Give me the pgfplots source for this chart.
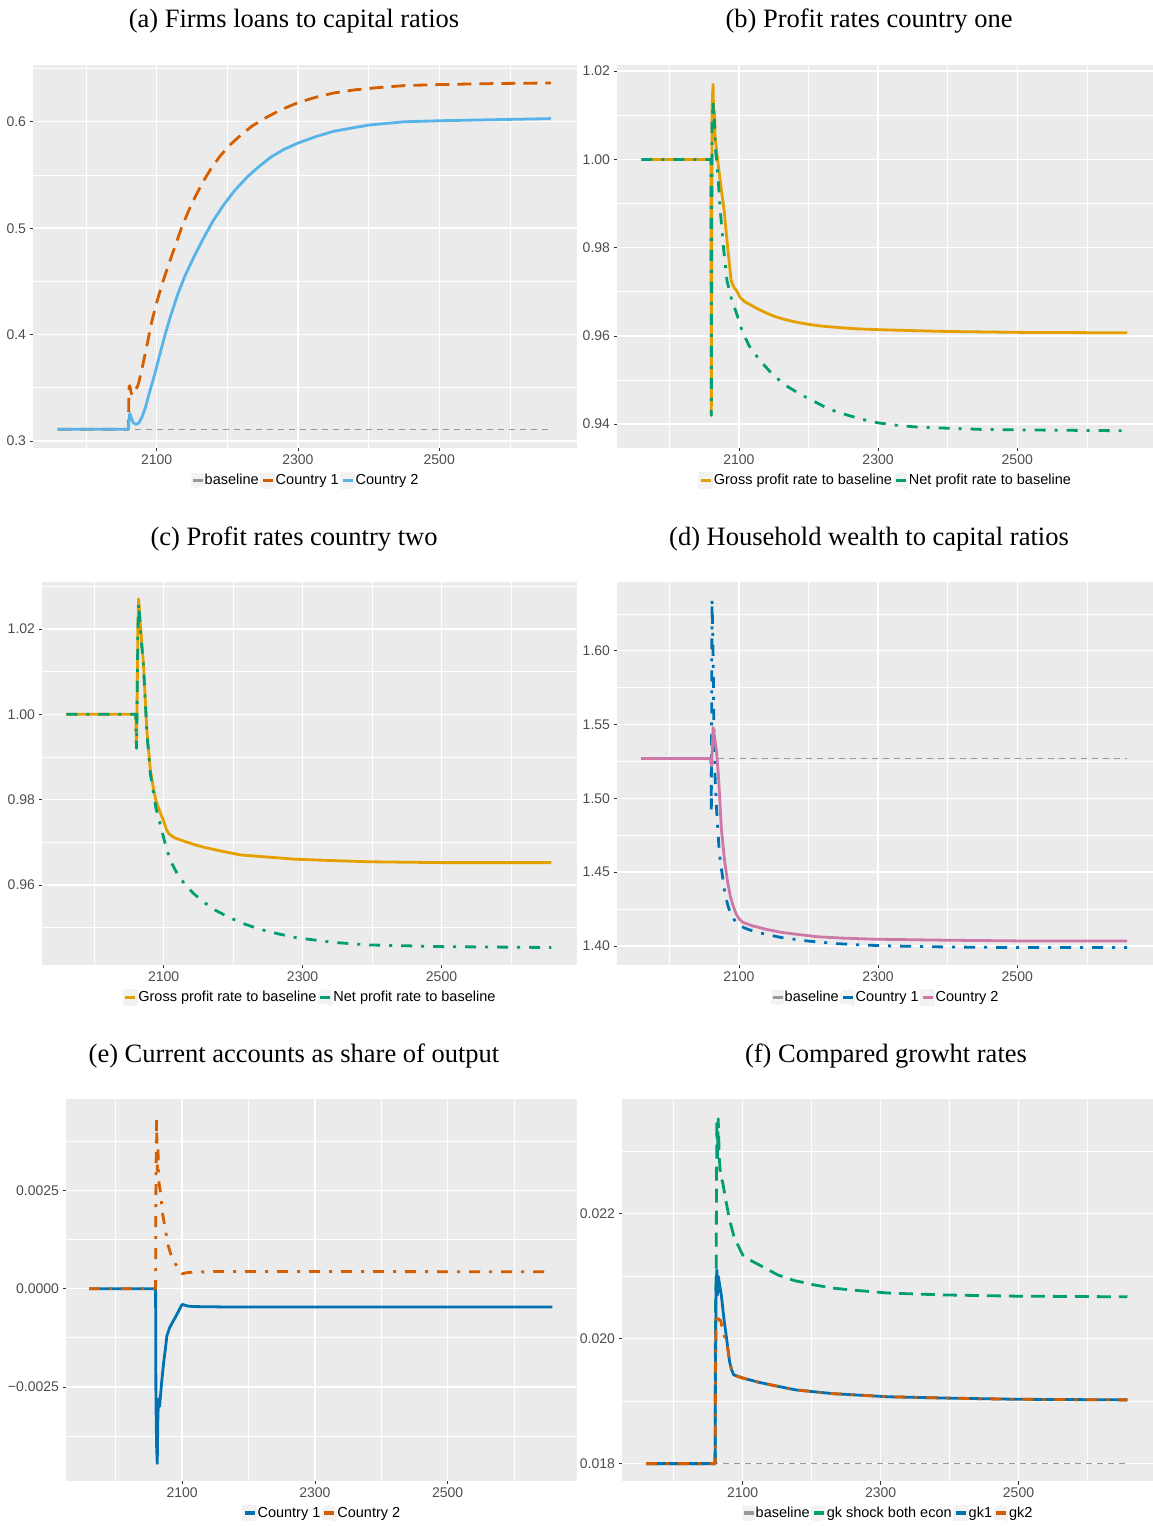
\documentclass[border=0pt]{standalone}
\usepackage{pgfplots}
\pgfplotsset{compat=1.18}
\usepackage{fontspec}
\setmainfont{Liberation Serif}
\newfontfamily\sansf{Liberation Sans}
\definecolor{panelbg}{HTML}{EBEBEB}
\definecolor{tickgray}{HTML}{4D4D4D}
\definecolor{tickmark}{HTML}{333333}
\definecolor{basegray}{HTML}{999999}
\definecolor{cbOrange}{HTML}{E69F00}
\definecolor{cbSky}{HTML}{56B4E9}
\definecolor{cbGreen}{HTML}{009E73}
\definecolor{cbBlue}{HTML}{0072B2}
\definecolor{cbVerm}{HTML}{D55E00}
\definecolor{cbPink}{HTML}{CC79A7}
\definecolor{keybg}{HTML}{F2F2F2}
\newcommand\tickfont{\sansf\fontsize{14}{16}\selectfont}
\newcommand\legfont{\sansf\fontsize{14.5}{17}\selectfont}
\newcommand\titlefont{\fontsize{26.5}{31}\selectfont}
\tikzset{
  ggbase/.style={basegray, line width=1.2pt, dash pattern=on 6pt off 5pt},
  ggthick/.style={line width=2.8pt, line join=round},
  ggdash/.style={dash pattern=on 14pt off 8pt},
  ggdd/.style={dash pattern=on 11pt off 9pt on 3pt off 9pt},
}
\pgfplotsset{
  gg/.style={
    scale only axis,
    height=383pt,
    axis background/.style={fill=panelbg},
    axis line style={draw=none},
    xmajorgrids, ymajorgrids, xminorgrids, yminorgrids,
    major grid style={white, line width=1.4pt},
    minor grid style={white, line width=0.7pt},
    xmin=1925, xmax=2695,
    xtick={2100,2300,2500},
    xticklabels={2100,2300,2500},
    minor xtick={2000,2200,2400,2600},
    scaled ticks=false,
    tick label style={font=\tickfont, text=tickgray},
    major tick style={draw=tickmark, line width=0.6pt},
    major tick length=3.5pt,
    minor tick length=0pt,
    tick align=outside,
    tick pos=left,
    legend columns=-1,
    legend style={font=\legfont, draw=none, fill=none, at={(0.5,-0.084)}, anchor=center, inner sep=0pt,
      nodes={inner sep=0.6pt},
      /tikz/every even column/.append style={column sep=1pt}},
    legend cell align=left,
    legend image code/.code={\fill[keybg] (-1pt,-7pt) rectangle (11pt,7pt);\draw[##1, solid, line width=3.2pt] (0pt,0pt) -- (10pt,0pt);},
  }
}
\begin{document}
\begin{tikzpicture}
\path[use as bounding box] (0pt,0pt) rectangle (1153pt,1526pt);
% titles
\node[font=\titlefont] at (294pt,1505pt) {(a) Firms loans to capital ratios};
\node[font=\titlefont] at (869pt,1505pt) {(b) Profit rates country one};
\node[font=\titlefont] at (294pt,987pt) {(c) Profit rates country two};
\node[font=\titlefont] at (869pt,987pt) {(d) Household wealth to capital ratios};
\node[font=\titlefont] at (294pt,470pt) {(e) Current accounts as share of output};
\node[font=\titlefont] at (886pt,470pt) {(f) Compared growht rates};

% (a)
\begin{axis}[gg, at={(33pt,1078pt)}, anchor=south west, width=544pt,
  ymin=0.2934, ymax=0.6534, ytick={0.3,0.4,0.5,0.6}, yticklabels={0.3,0.4,0.5,0.6},
  minor ytick={0.35,0.45,0.55,0.65}]
\addplot[ggbase] coordinates {(1960,0.311) (2655,0.311)};
\addlegendentry{baseline}
\addplot[cbVerm, ggthick, ggdash] coordinates {(1960,0.311) (2060,0.311) (2060.5,0.333) (2061,0.351) (2062,0.352) (2064,0.345) (2066,0.343) (2068,0.345) (2071,0.349) (2074,0.353) (2080,0.370) (2087,0.392) (2093,0.412) (2100,0.430) (2108,0.448) (2116,0.464) (2125,0.481) (2135,0.500) (2145,0.516) (2155,0.530) (2166,0.544) (2177,0.556) (2190,0.568) (2205,0.579) (2220,0.588) (2235,0.596) (2255,0.604) (2275,0.611) (2300,0.618) (2325,0.623) (2350,0.627) (2380,0.630) (2411,0.632) (2450,0.634) (2500,0.635) (2584,0.636) (2658,0.6365)};
\addlegendentry{Country 1}
\addplot[cbSky, ggthick] coordinates {(1960,0.311) (2060,0.311) (2061,0.320) (2062,0.326) (2064,0.322) (2067,0.317) (2071,0.3156) (2075,0.317) (2079,0.322) (2084,0.331) (2090,0.346) (2097,0.362) (2104,0.380) (2112,0.400) (2120,0.418) (2130,0.438) (2140,0.455) (2152,0.472) (2165,0.489) (2180,0.507) (2195,0.522) (2210,0.535) (2228,0.548) (2245,0.558) (2262,0.567) (2280,0.574) (2300,0.580) (2325,0.586) (2350,0.591) (2375,0.594) (2401,0.597) (2450,0.600) (2500,0.601) (2580,0.602) (2658,0.603)};
\addlegendentry{Country 2}
\end{axis}

% (b)
\begin{axis}[gg, at={(617pt,1078pt)}, anchor=south west, width=536pt,
  ymin=0.9346, ymax=1.0214, ytick={0.94,0.96,0.98,1.00,1.02}, yticklabels={0.94,0.96,0.98,1.00,1.02},
  minor ytick={0.95,0.97,0.99,1.01}]
\addplot[cbOrange, ggthick] coordinates {(1960,1.000) (2060,1.000) (2060.5,0.942) (2061.5,1.012) (2063,1.017) (2064,1.008) (2065,1.011) (2066,1.005) (2068,1.002) (2071,0.998) (2075,0.993) (2079,0.9883) (2084,0.980) (2087,0.9755) (2089,0.9725) (2093,0.971) (2097,0.9702) (2102,0.9687) (2108,0.9678) (2115,0.9672) (2125,0.9663) (2138,0.9653) (2150,0.9645) (2164,0.9638) (2180,0.9632) (2201,0.9626) (2220,0.9622) (2243,0.9619) (2270,0.9616) (2303,0.9614) (2350,0.9612) (2400,0.9610) (2505,0.9608) (2658,0.9607)};
\addlegendentry{Gross profit rate to baseline}
\addplot[cbGreen, ggthick, ggdd] coordinates {(1960,1.000) (2060,1.000) (2060.5,0.942) (2061.5,1.008) (2063,1.013) (2064,1.007) (2065,1.009) (2066,1.003) (2068,1.000) (2071,0.994) (2073,0.989) (2078,0.980) (2083,0.9725) (2090,0.968) (2097,0.965) (2105,0.961) (2115,0.9577) (2130,0.9545) (2146,0.9517) (2165,0.9490) (2188,0.9468) (2210,0.9450) (2230,0.9434) (2255,0.9421) (2277,0.9411) (2300,0.9403) (2329,0.9397) (2360,0.9393) (2397,0.9391) (2450,0.9388) (2502,0.9387) (2580,0.9386) (2658,0.9385)};
\addlegendentry{Net profit rate to baseline}
\end{axis}

% (c)
\begin{axis}[gg, at={(42pt,561pt)}, anchor=south west, width=535pt,
  ymin=0.9412, ymax=1.031, ytick={0.96,0.98,1.00,1.02}, yticklabels={0.96,0.98,1.00,1.02},
  minor ytick={0.95,0.97,0.99,1.01,1.03}]
\addplot[cbOrange, ggthick] coordinates {(1960,1.000) (2060,1.000) (2061,0.992) (2062,1.005) (2063,1.020) (2064,1.027) (2065,1.025) (2067,1.020) (2071,1.0118) (2076,0.9961) (2081,0.9868) (2085,0.9830) (2089,0.9797) (2095,0.9770) (2100,0.975) (2104,0.9730) (2108,0.9719) (2116,0.971) (2130,0.9702) (2145,0.9694) (2158,0.9688) (2180,0.9680) (2211,0.967) (2250,0.9665) (2290,0.966) (2340,0.9657) (2396,0.9654) (2502,0.9652) (2658,0.9652)};
\addlegendentry{Gross profit rate to baseline}
\addplot[cbGreen, ggthick, ggdd] coordinates {(1960,1.000) (2060,1.000) (2061,0.992) (2062,1.004) (2063,1.019) (2064,1.026) (2065,1.024) (2067,1.019) (2071,1.0115) (2076,0.9955) (2081,0.9860) (2085,0.9820) (2089,0.978) (2097,0.973) (2103,0.9692) (2110,0.9656) (2120,0.9625) (2132,0.9598) (2145,0.9577) (2158,0.9559) (2175,0.9540) (2195,0.9523) (2215,0.9509) (2238,0.9496) (2265,0.9485) (2291,0.9476) (2320,0.9470) (2344,0.9465) (2396,0.9459) (2450,0.9457) (2502,0.9455) (2580,0.9454) (2658,0.9453)};
\addlegendentry{Net profit rate to baseline}
\end{axis}

% (d)
\begin{axis}[gg, at={(617pt,561pt)}, anchor=south west, width=536pt,
  ymin=1.3871, ymax=1.6466, ytick={1.40,1.45,1.50,1.55,1.60}, yticklabels={1.40,1.45,1.50,1.55,1.60},
  minor ytick={1.425,1.475,1.525,1.575,1.625}]
\addplot[ggbase] coordinates {(1960,1.527) (2658,1.527)};
\addlegendentry{baseline}
\addplot[cbBlue, ggthick, ggdd] coordinates {(1960,1.527) (2060,1.527) (2060.5,1.490) (2061.5,1.635) (2063,1.600) (2064,1.555) (2065,1.530) (2066,1.513) (2068,1.493) (2070,1.478) (2072,1.463) (2076,1.449) (2080,1.4355) (2084,1.428) (2088,1.4218) (2093,1.418) (2098,1.4149) (2108,1.4122) (2119,1.4103) (2140,1.4078) (2161,1.4057) (2200,1.4033) (2240,1.4016) (2280,1.4006) (2319,1.400) (2398,1.3993) (2503,1.3989) (2658,1.3989)};
\addlegendentry{Country 1}
\addplot[cbPink, ggthick] coordinates {(1960,1.527) (2060,1.527) (2061,1.522) (2062,1.535) (2063,1.548) (2065,1.542) (2068,1.5317) (2071,1.5134) (2075,1.479) (2078,1.465) (2080,1.4561) (2084,1.443) (2088,1.4332) (2092,1.427) (2096,1.4218) (2101,1.418) (2106,1.416) (2119,1.4137) (2140,1.4112) (2161,1.4092) (2190,1.4075) (2214,1.4062) (2250,1.4053) (2293,1.4046) (2350,1.4042) (2398,1.4039) (2503,1.4034) (2658,1.4034)};
\addlegendentry{Country 2}
\end{axis}

% (e)
\begin{axis}[gg, at={(66pt,45pt)}, anchor=south west, width=511pt, height=382pt,
  ymin=-0.004894, ymax=0.004827, ytick={-0.0025,0,0.0025}, yticklabels={−0.0025,0.0000,0.0025},
  minor ytick={-0.00375,-0.00125,0.00125,0.00375}]
\addplot[cbBlue, ggthick] coordinates {(1960,0) (2060,0) (2060.5,-0.0028) (2061.5,-0.0040) (2062.5,-0.00445) (2063.5,-0.0032) (2065,-0.0028) (2066,-0.0030) (2069,-0.0024) (2072,-0.0019) (2075,-0.0015) (2077,-0.0012) (2081,-0.0010) (2086,-0.00084) (2090,-0.00072) (2094,-0.00059) (2100,-0.00040) (2108,-0.00044) (2116,-0.000455) (2160,-0.000464) (2658,-0.000464)};
\addlegendentry{Country 1}
\addplot[cbVerm, ggthick, ggdd] coordinates {(1960,0) (2060,0) (2060.5,0.0027) (2061.5,0.0044) (2062.5,0.0030) (2063.5,0.0036) (2065,0.0027) (2067,0.0025) (2071,0.00186) (2079,0.0011) (2085,0.00076) (2093,0.00055) (2100,0.00038) (2108,0.00041) (2116,0.00042) (2160,0.00044) (2658,0.00043)};
\addlegendentry{Country 2}
\end{axis}

% (f)
\begin{axis}[gg, at={(622pt,45pt)}, anchor=south west, width=531pt, height=382pt,
  ymin=0.017722, ymax=0.023836, ytick={0.018,0.020,0.022}, yticklabels={0.018,0.020,0.022},
  minor ytick={0.019,0.021,0.023}]
\addplot[ggbase] coordinates {(1960,0.018) (2658,0.018)};
\addlegendentry{baseline}
\addplot[cbGreen, ggthick, ggdash] coordinates {(1960,0.018) (2060,0.018) (2060.5,0.0204) (2061.5,0.0211) (2062.5,0.0235) (2063.5,0.0229) (2064.5,0.02352) (2066,0.0229) (2068,0.0226) (2071,0.0225) (2076,0.02219) (2081,0.0219) (2087,0.02165) (2093,0.0215) (2100,0.02134) (2112,0.02125) (2124,0.02118) (2151,0.02102) (2175,0.02093) (2204,0.02086) (2230,0.02081) (2257,0.02078) (2311,0.02073) (2391,0.0207) (2497,0.02068) (2658,0.02067)};
\addlegendentry{gk shock both econ}
\addplot[cbBlue, ggthick] coordinates {(1960,0.018) (2060,0.018) (2060.5,0.0195) (2061.5,0.0208) (2062.5,0.0211) (2063.5,0.0207) (2064.5,0.0210) (2066,0.0209) (2069,0.0207) (2073,0.0203) (2076,0.02006) (2079,0.0198) (2081,0.01963) (2084,0.0195) (2087,0.01942) (2100,0.01937) (2124,0.0193) (2150,0.01924) (2177,0.01918) (2231,0.01912) (2311,0.01907) (2391,0.01905) (2497,0.01903) (2658,0.01902)};
\addlegendentry{gk1}
\addplot[cbVerm, ggthick, ggdd] coordinates {(1960,0.018) (2060,0.018) (2060.5,0.0193) (2061.5,0.0204) (2063,0.0204) (2065,0.0203) (2068,0.0203) (2071,0.0201) (2075,0.0200) (2079,0.0198) (2081,0.01963) (2084,0.0195) (2087,0.01942) (2100,0.01937) (2124,0.0193) (2150,0.01924) (2177,0.01918) (2231,0.01912) (2311,0.01907) (2391,0.01905) (2497,0.01903) (2658,0.01902)};
\addlegendentry{gk2}
\end{axis}
\end{tikzpicture}
\end{document}
